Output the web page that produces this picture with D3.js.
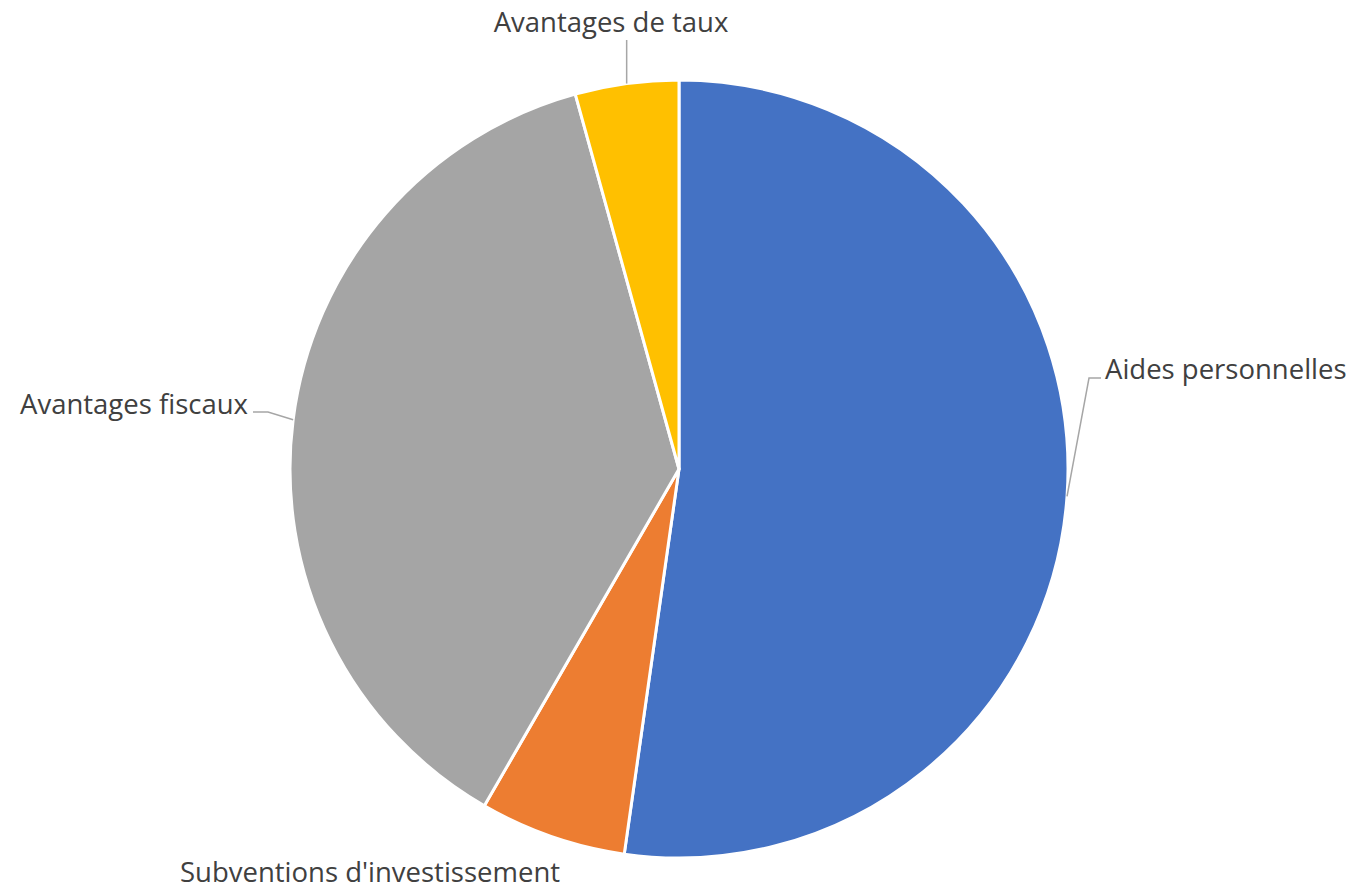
<!DOCTYPE html>
<html><head><meta charset="utf-8">
<script src="https://cdn.jsdelivr.net/npm/d3@7"></script>
<style>body{margin:0;background:#fff}svg{display:block}</style>
</head><body>
<svg id="c" width="1359" height="890"></svg>
<script>
const categories = ["Aides personnelles", "Subventions d'investissement", "Avantages fiscaux", "Avantages de taux"];
const values = [52.3, 6.1, 37.4, 4.3];
const colors = ["#4472C4", "#ED7D31", "#A5A5A5", "#FFC000"];

const W = 1359, H = 890, cx = 679, cy = 469, R = 389;
const svg = d3.select("#c");
const g = svg.append("g").attr("transform", `translate(${cx},${cy})`);
const data = categories.map((c, i) => ({c, v: values[i], col: colors[i]}));
const pie = d3.pie().value(d => d.v).sort(null);
const arcs = pie(data);
const arc = d3.arc().innerRadius(0).outerRadius(R);

g.selectAll("path").data(arcs).join("path")
  .attr("d", arc).attr("fill", d => d.data.col)
  .attr("stroke", "#fff").attr("stroke-width", 3).attr("stroke-linejoin", "round");

// label layout (offsets relative to the chart centre)
const labelLayout = [
  {x: 1105 - cx, y: 379 - cy, anchor: "start", elbow: [[1089 - cx, 378 - cy], [1101 - cx, 378 - cy]]},
  {x: 370 - cx, y: 882 - cy, anchor: "middle", elbow: null},
  {x: 248 - cx, y: 414 - cy, anchor: "end", elbow: [[268 - cx, 412 - cy], [253 - cx, 412 - cy]]},
  {x: 611 - cx, y: 32 - cy, anchor: "middle", elbow: [[627 - cx, 40 - cy]], vertical: true}
];

arcs.forEach((a, i) => {
  const L = labelLayout[i];
  if (L.elbow) {
    const mid = (a.startAngle + a.endAngle) / 2;
    const p0 = [R * Math.sin(mid), -R * Math.cos(mid)];
    let pts = [p0].concat(L.elbow);
    if (L.vertical) pts = [p0, [p0[0], L.elbow[0][1]]];
    g.append("path").attr("d", d3.line()(pts))
      .attr("fill", "none").attr("stroke", "#A6A6A6").attr("stroke-width", 1.5);
  }
  g.append("text").attr("x", L.x).attr("y", L.y)
    .attr("text-anchor", L.anchor)
    .attr("font-family", "'Open Sans', 'Noto Sans', sans-serif")
    .attr("font-size", 27.5).attr("fill", "#404040")
    .text(a.data.c);
});
</script>
</body></html>
